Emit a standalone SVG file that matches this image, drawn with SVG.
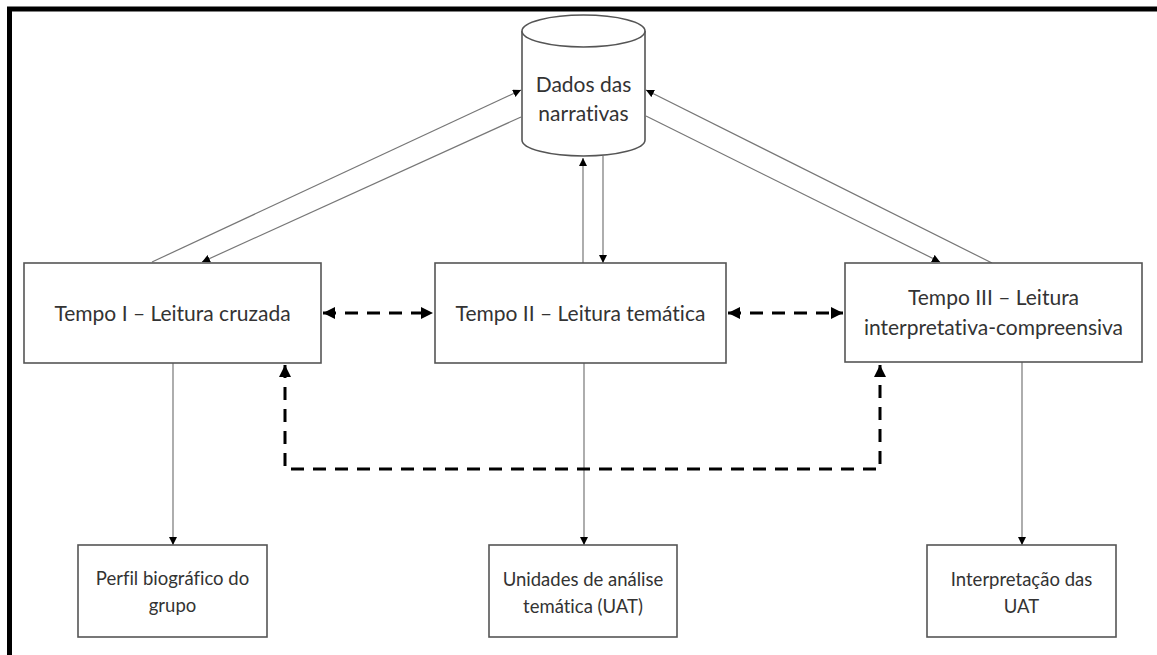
<svg xmlns="http://www.w3.org/2000/svg" width="1157" height="655" viewBox="0 0 1157 655">
<defs>
<style>
.box{fill:#fff;stroke:#555;stroke-width:1.6}
.t{font-family:Lato,"Liberation Sans",sans-serif;fill:#333;text-anchor:middle;font-variant-ligatures:none;font-feature-settings:"liga" 0}
.big{font-size:21px}
.small{font-size:18.5px}
.cyl{font-size:21px}
.thin{fill:none;stroke:#777;stroke-width:1.2}
.dash{fill:none;stroke:#000;stroke-width:3;stroke-dasharray:13 9}
</style>
<marker id="ah" viewBox="0 0 10 10" refX="10" refY="5" markerWidth="8" markerHeight="8" markerUnits="userSpaceOnUse" orient="auto">
<path d="M0,0 L10,5 L0,10 Z" fill="#000"/>
</marker>
<marker id="dh" viewBox="0 0 10 10" refX="10" refY="5" markerWidth="12" markerHeight="12" markerUnits="userSpaceOnUse" orient="auto-start-reverse">
<path d="M0,0 L10,5 L0,10 Z" fill="#000"/>
</marker>
</defs>
<rect width="1157" height="655" fill="#fff"/>
<path d="M9.5,655 L9.5,9 L1157,9" fill="none" stroke="#000" stroke-width="5"/>

<g id="connectors">
<line class="thin" x1="152" y1="262" x2="521" y2="90" marker-end="url(#ah)"/>
<line class="thin" x1="521" y1="117" x2="202" y2="262" marker-end="url(#ah)"/>
<line class="thin" x1="992" y1="263" x2="646" y2="90" marker-end="url(#ah)"/>
<line class="thin" x1="646" y1="116" x2="940" y2="262" marker-end="url(#ah)"/>
<line class="thin" x1="583" y1="263" x2="583" y2="158" marker-end="url(#ah)"/>
<line class="thin" x1="603" y1="156" x2="603" y2="263" marker-end="url(#ah)"/>
<line class="thin" x1="173" y1="363" x2="173" y2="545" marker-end="url(#ah)"/>
<line class="thin" x1="584" y1="363" x2="584" y2="545" marker-end="url(#ah)"/>
<line class="thin" x1="1022" y1="362" x2="1022" y2="545" marker-end="url(#ah)"/>
<line class="dash" x1="323" y1="313" x2="433" y2="313" marker-start="url(#dh)" marker-end="url(#dh)"/>
<line class="dash" x1="728" y1="313" x2="843" y2="313" marker-start="url(#dh)" marker-end="url(#dh)"/>
<path class="dash" d="M285,365 L285,469 L880,469 L880,365" marker-start="url(#dh)" marker-end="url(#dh)"/>
</g>

<g id="dados">
<path d="M522,31 L522,140 A61.5,16 0 0 0 645,140 L645,31" fill="#fff" stroke="#555" stroke-width="1.6"/>
<ellipse cx="583.5" cy="31" rx="61.5" ry="16" fill="#fff" stroke="#555" stroke-width="1.6"/>
<text class="t cyl" x="583.5" y="92">Dados das</text>
<text class="t cyl" x="583.5" y="121">narrativas</text>
</g>

<g id="tempo1">
<rect class="box" x="24" y="263" width="297" height="100"/>
<text class="t big" x="172.5" y="321">Tempo I – Leitura cruzada</text>
</g>

<g id="tempo2">
<rect class="box" x="435" y="263" width="291" height="100"/>
<text class="t big" x="580.5" y="321">Tempo II – Leitura temática</text>
</g>

<g id="tempo3">
<rect class="box" x="845" y="263" width="297" height="99"/>
<text class="t big" x="993.5" y="305">Tempo III – Leitura</text>
<text class="t big" x="993.5" y="335">interpretativa-compreensiva</text>
</g>

<g id="perfil">
<rect class="box" x="78" y="545" width="189" height="92"/>
<text class="t small" x="172.5" y="585">Perfil biográfico do</text>
<text class="t small" x="172.5" y="612">grupo</text>
</g>

<g id="uat">
<rect class="box" x="489" y="545" width="188" height="92"/>
<text class="t small" x="583" y="586">Unidades de análise</text>
<text class="t small" x="583" y="613">temática (UAT)</text>
</g>

<g id="interp">
<rect class="box" x="927" y="545" width="189" height="92"/>
<text class="t small" x="1021.5" y="586">Interpretação das</text>
<text class="t small" x="1021.5" y="613">UAT</text>
</g>
</svg>
